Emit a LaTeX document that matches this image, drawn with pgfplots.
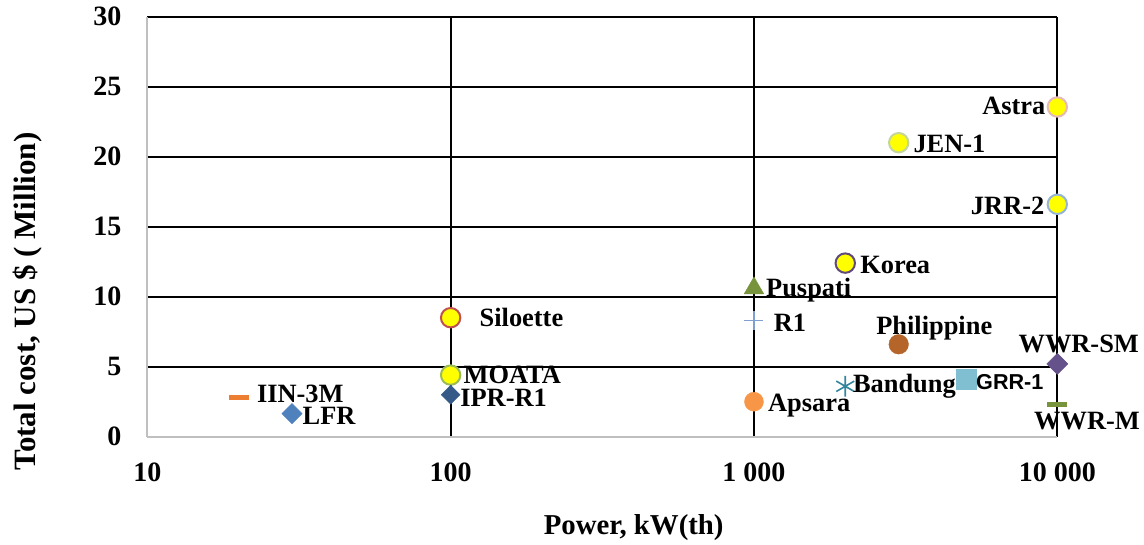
\documentclass[border=0pt]{standalone}
\usepackage{fontspec}
\setmainfont{Liberation Serif}
\newfontfamily\sansfont{Liberation Sans}
\usepackage{pgfplots}
\pgfplotsset{compat=1.18}

\definecolor{axgray}{HTML}{BFBFBF}
\definecolor{iinc}{HTML}{ED7D31}
\definecolor{lfrc}{HTML}{4F81BD}
\definecolor{iprc}{HTML}{365A88}
\definecolor{silc}{HTML}{C0504D}
\definecolor{moac}{HTML}{9BBB59}
\definecolor{pusc}{HTML}{77933C}
\definecolor{r1c}{HTML}{7F9FD0}
\definecolor{apsc}{HTML}{F79646}
\definecolor{korc}{HTML}{604A7B}
\definecolor{jenc}{HTML}{C3D69B}
\definecolor{phic}{HTML}{B5652A}
\definecolor{banc}{HTML}{31859C}
\definecolor{grrc}{HTML}{7FBFD1}
\definecolor{astc}{HTML}{E6B9B8}
\definecolor{jrrc}{HTML}{95B3D7}
\definecolor{wsmc}{HTML}{66528A}
\definecolor{wwmc}{HTML}{77933C}
\definecolor{ylw}{HTML}{FFFF00}

\newcommand{\lf}{\bfseries\fontsize{13.2}{13.2}\selectfont}
\newcommand{\tf}{\bfseries\fontsize{14}{14}\selectfont}

\pgfplotsset{
  lbl/.style n args={3}{nodes near coords, point meta=explicit symbolic,
    every node near coord/.append style={anchor=#1, xshift=#2, yshift=#3,
      inner sep=0pt, text=black, font=\lf}},
  ycirc/.style={only marks, mark=*, mark size=4.85pt,
    mark options={fill=ylw, draw=#1, line width=1pt}},
}

\begin{document}
\begin{tikzpicture}
\path[use as bounding box] (0,0) rectangle (572pt,272.5pt);
\begin{axis}[
  at={(73.65pt,54.15pt)}, anchor=south west,
  scale only axis, width=455pt, height=210pt,
  xmode=log, xmin=10, xmax=10000, ymin=0, ymax=30,
  xtick={10,100,1000,10000},
  xticklabels={10,100,1 000,10 000},
  ytick={0,5,10,15,20,25,30},
  yticklabels={0,5,10,15,20,25,30},
  axis lines*=left,
  axis line style={draw=axgray, line width=1.1pt},
  grid=major,
  major grid style={draw=black, line width=1pt},
  tick style={draw=none},
  xticklabel style={font=\tf, inner sep=0pt, anchor=north, yshift=-13pt},
  yticklabel style={font=\tf, inner sep=0pt, anchor=east, xshift=-12.8pt},
  xlabel={Power, kW(th)},
  ylabel={Total cost, US \$ ( Million)},
  xlabel style={font=\bfseries\fontsize{14.4}{14.4}\selectfont, at={(axis description cs:0.5345,-0.2324)}, anchor=base, inner sep=0pt},
  ylabel style={font=\bfseries\fontsize{15.5}{15.5}\selectfont, at={(axis description cs:-0.1234,0.3214)}, anchor=base, inner sep=0pt},
  clip=false,
]
% IIN-3M
\addplot[only marks, mark=-, mark size=5pt, color=iinc, mark options={line width=2.5pt},
  lbl={base west}{8pt}{-2.3pt}] coordinates {(20,2.8) [IIN-3M]};
% LFR
\addplot[only marks, mark=square*, mark size=3.55pt, color=lfrc,
  mark options={rotate=45, fill=lfrc, draw=lfrc, line width=0.3pt},
  lbl={base west}{5.2pt}{-5.5pt}] coordinates {(30,1.65) [LFR]};
% Siloette
\addplot[ycirc=silc, lbl={base west}{14pt}{-4.5pt}] coordinates {(100,8.5) [Siloette]};
% MOATA
\addplot[ycirc=moac, lbl={base west}{6pt}{-4.2pt}] coordinates {(100,4.4) [MOATA]};
% IPR-R1
\addplot[only marks, mark=square*, mark size=3.3pt, color=iprc,
  mark options={rotate=45, fill=iprc, draw=iprc, line width=0.3pt},
  lbl={base west}{4.7pt}{-5.8pt}] coordinates {(100,3.0) [IPR-R1]};
% Puspati
\addplot[only marks, mark=triangle*, mark size=5.7pt, color=pusc,
  mark options={fill=pusc, draw=pusc, line width=0.2pt},
  lbl={base west}{6pt}{-3.9pt}] coordinates {(1000,10.6) [Puspati]};
% R1
\addplot[only marks, mark=+, mark size=4.75pt, color=r1c,
  mark options={line width=0.8pt},
  lbl={base west}{9.5pt}{-5.5pt}] coordinates {(1000,8.3) [R1]};
% Apsara
\addplot[only marks, mark=*, mark size=4.75pt, color=apsc,
  mark options={fill=apsc, draw=apsc, line width=0.2pt},
  lbl={base west}{7pt}{-5pt}] coordinates {(1000,2.5) [Apsara]};
% Korea
\addplot[ycirc=korc, lbl={base west}{7pt}{-5.1pt}] coordinates {(2000,12.4) [Korea]};
% JEN-1
\addplot[ycirc=jenc, lbl={base west}{6.9pt}{-4.7pt}] coordinates {(3000,21.0) [JEN-1]};
% Philippine
\addplot[only marks, mark=*, mark size=4.9pt, color=phic,
  mark options={fill=phic, draw=phic, line width=0.2pt},
  lbl={base west}{-11.3pt}{4.75pt}] coordinates {(3000,6.6) [Philippine]};
% Bandung
\addplot[only marks, mark=asterisk, mark size=5.2pt, color=banc,
  mark options={line width=0.8pt},
  lbl={base west}{3.5pt}{-3.15pt}] coordinates {(2000,3.6) [Bandung]};
% GRR-1
\addplot[only marks, mark=square*, mark size=5pt, color=grrc,
  mark options={fill=grrc, draw=grrc, line width=0.2pt},
  nodes near coords, point meta=explicit symbolic,
  every node near coord/.append style={anchor=base west, xshift=5pt, yshift=-5.3pt,
    inner sep=0pt, text=black, font=\sansfont\bfseries\fontsize{10.8}{10.8}\selectfont}]
  coordinates {(5000,4.1) [GRR-1]};
% Astra
\addplot[ycirc=astc, lbl={base east}{-5.5pt}{-3.7pt}] coordinates {(10000,23.55) [Astra]};
% JRR-2
\addplot[ycirc=jrrc, lbl={base east}{-6pt}{-5.1pt}] coordinates {(10000,16.6) [JRR-2]};
% WWR-SM
\addplot[only marks, mark=square*, mark size=3.7pt, color=wsmc,
  mark options={rotate=45, fill=wsmc, draw=wsmc, line width=0.3pt},
  lbl={base west}{-19.5pt}{5.7pt}] coordinates {(10000,5.2) [WWR-SM]};
% WWR-M
\addplot[only marks, mark=-, mark size=5pt, color=wwmc, mark options={line width=2.5pt},
  lbl={base west}{-12.8pt}{-12.7pt}] coordinates {(10000,2.3) [WWR-M]};
\end{axis}
\end{tikzpicture}
\end{document}
